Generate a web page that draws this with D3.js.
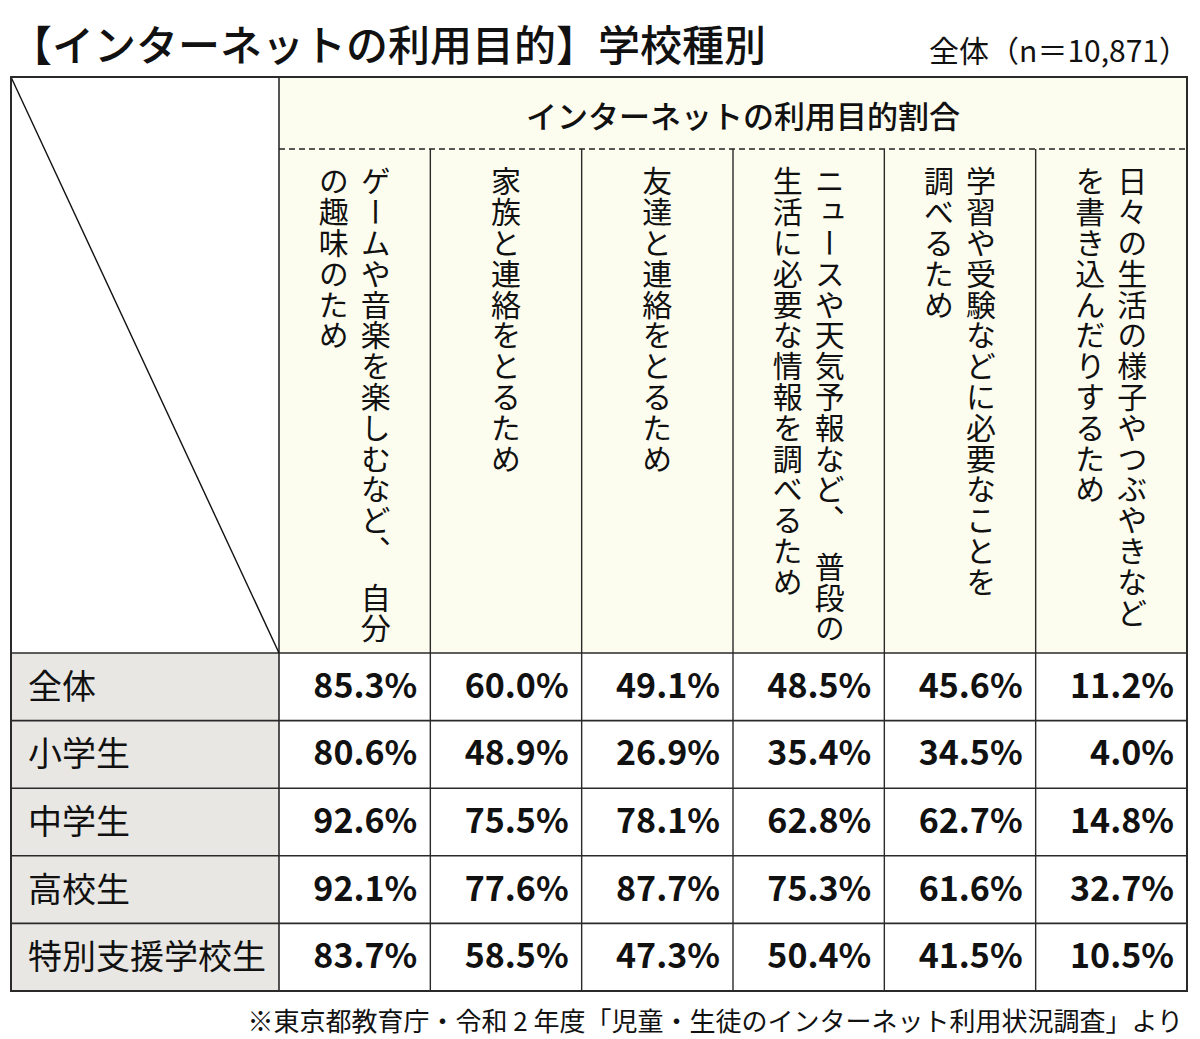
<!DOCTYPE html>
<html>
<head>
<meta charset="utf-8">
<script src="https://cdn.jsdelivr.net/npm/d3@7"></script>
<style>
  html, body { margin: 0; padding: 0; background: #ffffff; }
  svg { display: block; }
  text { font-family: "Noto Sans CJK JP", "Noto Sans", sans-serif; fill: #111; }
</style>
</head>
<body>
<svg id="chart" width="1200" height="1039"></svg>
<script>
// ---- data ----
const titleText = "【インターネットの利用目的】学校種別";
const sampleText = "全体（n＝10,871）";
const groupHeader = "インターネットの利用目的割合";
const sourceText = "※東京都教育庁・令和 2 年度「児童・生徒のインターネット利用状況調査」より";

const purposes = ["game", "family", "friends", "news", "study", "diary"];
const purposeLabels = [
  ["ゲームや音楽を楽しむなど、　自分", "の趣味のため"],
  ["家族と連絡をとるため"],
  ["友達と連絡をとるため"],
  ["ニュースや天気予報など、　普段の", "生活に必要な情報を調べるため"],
  ["学習や受験などに必要なことを", "調べるため"],
  ["日々の生活の様子やつぶやきなど", "を書き込んだりするため"]
];
const schoolTypes = ["全体", "小学生", "中学生", "高校生", "特別支援学校生"];

const valuesAll        = [85.3, 60.0, 49.1, 48.5, 45.6, 11.2];
const valuesElementary = [80.6, 48.9, 26.9, 35.4, 34.5, 4.0];
const valuesJunior     = [92.6, 75.5, 78.1, 62.8, 62.7, 14.8];
const valuesHigh       = [92.1, 77.6, 87.7, 75.3, 61.6, 32.7];
const valuesSpecial    = [83.7, 58.5, 47.3, 50.4, 41.5, 10.5];
const rowValues = [valuesAll, valuesElementary, valuesJunior, valuesHigh, valuesSpecial];

// ---- layout ----
const svg = d3.select("#chart");
const L = 11, R = 1187, T = 77, B = 991;
const labelRight = 279;
const headerDash = 149;
const headerBottom = 653;

const x = d3.scaleBand().domain(purposes).range([labelRight, R]).paddingInner(0).paddingOuter(0);
const y = d3.scaleBand().domain(schoolTypes).range([headerBottom, B]);

const fmt = v => d3.format(".1f")(v) + "%";

// backgrounds
svg.append("rect").attr("x", labelRight).attr("y", T).attr("width", R - labelRight).attr("height", headerBottom - T)
  .attr("fill", "#fdfdef");
svg.append("rect").attr("x", L).attr("y", headerBottom).attr("width", labelRight - L).attr("height", B - headerBottom)
  .attr("fill", "#e8e7e3");

// title
svg.append("text").attr("x", 10).attr("y", 61).attr("font-size", 42).attr("font-weight", 500)
  .text(titleText);
svg.append("text").attr("x", 1189).attr("y", 62).attr("font-size", 30).attr("text-anchor", "end")
  .text(sampleText);

// group header
svg.append("text").attr("x", 743).attr("y", 128).attr("font-size", 31).attr("font-weight", 500)
  .attr("text-anchor", "middle").text(groupHeader);

// dashed line
svg.append("line").attr("x1", labelRight).attr("x2", R).attr("y1", headerDash).attr("y2", headerDash)
  .attr("stroke", "#222").attr("stroke-width", 1.3).attr("stroke-dasharray", "6,4");

// vertical column labels
const colG = svg.append("g").selectAll("g").data(purposes).join("g");
colG.each(function(p, i) {
  const lines = purposeLabels[i];
  const cx = x(p) + x.bandwidth() / 2;
  const n = lines.length;
  const gap = 42;
  lines.forEach((ln, j) => {
    const lx = cx + (n - 1) * gap / 2 - j * gap;
    d3.select(this).append("text")
      .attr("x", lx).attr("y", 166)
      .attr("font-size", 30)
      .style("letter-spacing", "0.8px")
      .style("writing-mode", "vertical-rl")
      .text(ln);
  });
});

// row labels
svg.append("g").selectAll("text").data(schoolTypes).join("text")
  .attr("x", 28).attr("y", d => y(d) + y.bandwidth() / 2 + 12)
  .attr("font-size", 34)
  .text(d => d);

// values
const cells = [];
schoolTypes.forEach((s, r) => purposes.forEach((p, c) => cells.push({s, p, v: rowValues[r][c]})));
svg.append("g").selectAll("text").data(cells).join("text")
  .attr("x", d => x(d.p) + x.bandwidth() - 13)
  .attr("y", d => y(d.s) + y.bandwidth() / 2 + 11)
  .attr("font-size", 34).attr("font-weight", 700).attr("text-anchor", "end")
  .text(d => fmt(d.v));

// grid lines
const lineCol = "#2a2a2a";
svg.append("g").selectAll("line").data(purposes.slice(1)).join("line")
  .attr("x1", d => x(d)).attr("x2", d => x(d)).attr("y1", headerDash).attr("y2", B)
  .attr("stroke", lineCol).attr("stroke-width", 1.4);
svg.append("g").selectAll("line").data(schoolTypes).join("line")
  .attr("x1", L).attr("x2", R).attr("y1", d => y(d)).attr("y2", d => y(d))
  .attr("stroke", lineCol).attr("stroke-width", 1.6);
svg.append("line").attr("x1", labelRight).attr("x2", labelRight).attr("y1", T).attr("y2", B)
  .attr("stroke", lineCol).attr("stroke-width", 1.6);
svg.append("line").attr("x1", L).attr("y1", T).attr("x2", labelRight).attr("y2", headerBottom)
  .attr("stroke", "#111").attr("stroke-width", 1.4);
svg.append("rect").attr("x", L).attr("y", T).attr("width", R - L).attr("height", B - T)
  .attr("fill", "none").attr("stroke", lineCol).attr("stroke-width", 2);

// source
svg.append("text").attr("x", 1183).attr("y", 1031).attr("font-size", 26).attr("text-anchor", "end")
  .text(sourceText);
</script>
</body>
</html>
